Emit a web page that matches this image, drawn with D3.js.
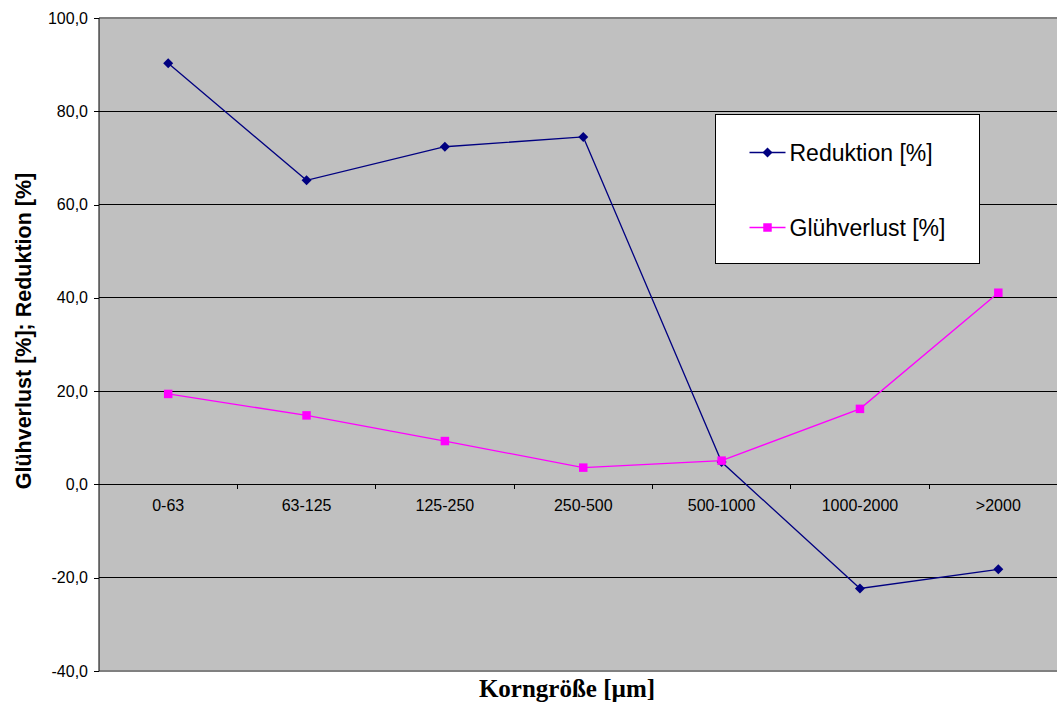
<!DOCTYPE html>
<html>
<head>
<meta charset="utf-8">
<script src="https://cdn.jsdelivr.net/npm/d3@7"></script>
<style>
  body { margin: 0; background: #fff; }
  svg { display: block; }
  text { font-family: "Liberation Sans", Arial, sans-serif; }
</style>
</head>
<body>
<div id="chart"></div>
<script>
// data
const categories = ["0-63", "63-125", "125-250", "250-500", "500-1000", "1000-2000", ">2000"];
const reduktion = [90.3, 65.2, 72.4, 74.5, 4.8, -22.3, -18.2];
const gluehverlust = [19.4, 14.8, 9.3, 3.6, 5.1, 16.2, 41.1];
const yTicks = [-40, -20, 0, 20, 40, 60, 80, 100];

const W = 1057, H = 702;
const margin = { top: 18, left: 99 };
const plotW = 968.5, plotH = 653;

const svg = d3.select("#chart").append("svg")
  .attr("width", W)
  .attr("height", H);

const g = svg.append("g")
  .attr("transform", `translate(${margin.left},${margin.top})`);

const x = d3.scaleBand().domain(categories).range([0, plotW]);
const y = d3.scaleLinear().domain([-40, 100]).range([plotH, 0]);

// plot background
g.append("rect")
  .attr("width", plotW).attr("height", plotH)
  .attr("fill", "#c0c0c0");

// gridlines
g.selectAll(".grid")
  .data(yTicks)
  .enter().append("line")
  .attr("x1", 0).attr("x2", plotW)
  .attr("y1", d => y(d)).attr("y2", d => y(d))
  .attr("stroke", d => (d === 100 || d === -40) ? "#808080" : "#000")
  .attr("stroke-width", d => (d === 100 || d === -40) ? 2 : 1)
  .attr("shape-rendering", "crispEdges");

// y axis
const yAxis = d3.axisLeft(y)
  .tickValues(yTicks)
  .tickSize(5)
  .tickPadding(6)
  .tickFormat(d => d3.format(".1f")(d).replace(".", ",").replace("−", "-"));

const gy = g.append("g").call(yAxis);
gy.select(".domain").attr("stroke", "#000").attr("d", `M0,0V${plotH}`);
gy.selectAll("line").attr("stroke", "#000").attr("shape-rendering", "crispEdges");
gy.selectAll("text")
  .attr("font-size", 16)
  .attr("font-family", "Liberation Sans, Arial, sans-serif")
  .attr("fill", "#000");

// x axis at zero
const xAxis = d3.axisBottom(x).tickSize(0).tickPadding(15);
const gx = g.append("g")
  .attr("transform", `translate(0,${y(0)})`)
  .call(xAxis);
gx.select(".domain").remove();
gx.selectAll("text")
  .attr("font-size", 16)
  .attr("font-family", "Liberation Sans, Arial, sans-serif")
  .attr("fill", "#000");

// small tick marks between categories
g.selectAll(".xtick")
  .data(categories.slice(1))
  .enter().append("line")
  .attr("x1", d => x(d)).attr("x2", d => x(d))
  .attr("y1", y(0)).attr("y2", y(0) + 5)
  .attr("stroke", "#000")
  .attr("shape-rendering", "crispEdges");

// series
const series = [
  { name: "Reduktion [%]", values: reduktion, color: "#000080", rot: 45, size: 50 },
  { name: "Glühverlust [%]", values: gluehverlust, color: "#ff00ff", rot: 0, size: 72 }
];

const line = d3.line()
  .x((d, i) => x(categories[i]) + x.bandwidth() / 2)
  .y(d => y(d));

series.forEach(s => {
  g.append("path")
    .datum(s.values)
    .attr("fill", "none")
    .attr("stroke", s.color)
    .attr("stroke-width", 1.3)
    .attr("d", line);

  g.selectAll(null)
    .data(s.values)
    .enter().append("path")
    .attr("d", d3.symbol().type(d3.symbolSquare).size(s.size))
    .attr("transform", (d, i) => `translate(${x(categories[i]) + x.bandwidth() / 2},${y(d)}) rotate(${s.rot})`)
    .attr("fill", s.color);
});

// legend
const leg = svg.append("g").attr("transform", "translate(715.5,114.5)");
leg.append("rect")
  .attr("width", 264).attr("height", 149)
  .attr("fill", "#fff")
  .attr("stroke", "#000")
  .attr("stroke-width", 1);

series.forEach((s, i) => {
  const ly = 38 + i * 75;
  leg.append("line")
    .attr("x1", 34).attr("x2", 70)
    .attr("y1", ly).attr("y2", ly)
    .attr("stroke", s.color)
    .attr("stroke-width", 1.3);
  leg.append("path")
    .attr("d", d3.symbol().type(d3.symbolSquare).size(s.size))
    .attr("transform", `translate(52,${ly}) rotate(${s.rot})`)
    .attr("fill", s.color);
  leg.append("text")
    .attr("x", 74).attr("y", ly + 8)
    .attr("font-size", 23)
    .attr("fill", "#000")
    .text(s.name);
});

// axis titles
svg.append("text")
  .attr("transform", "translate(31,331) rotate(-90)")
  .attr("text-anchor", "middle")
  .attr("font-size", 21.5)
  .attr("font-weight", "bold")
  .attr("fill", "#000")
  .text("Glühverlust [%]; Reduktion [%]");

svg.append("text")
  .attr("x", 567).attr("y", 697)
  .attr("text-anchor", "middle")
  .attr("font-size", 25)
  .attr("font-weight", "bold")
  .style("font-family", "Liberation Serif, Times New Roman, serif")
  .attr("fill", "#000")
  .text("Korngröße [µm]");
</script>
</body>
</html>
